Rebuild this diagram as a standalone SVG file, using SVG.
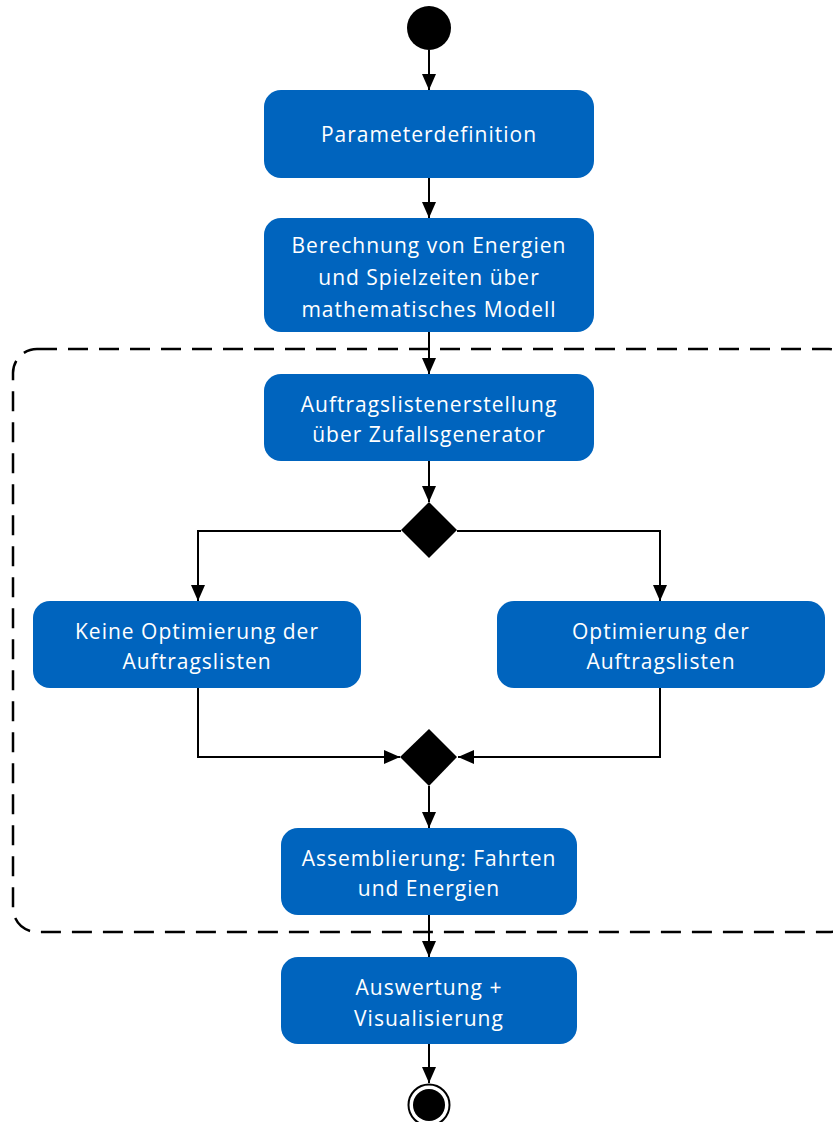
<svg xmlns="http://www.w3.org/2000/svg" width="833" height="1122" viewBox="0 0 833 1122">
<style>
.box{fill:#0064BE;}
.t{font-family:"Open Sans","Liberation Sans",sans-serif;font-size:21px;letter-spacing:1px;fill:#ffffff;text-anchor:middle;dominant-baseline:central;}
.c{fill:none;stroke:#000;stroke-width:2;}
</style>
<defs>
<marker id="ah" markerWidth="16" markerHeight="14" refX="16" refY="7" orient="auto" markerUnits="userSpaceOnUse">
<path d="M0,0 L16,7 L0,14 Z" fill="#000"/>
</marker>
</defs>
<rect x="13" y="349" width="840" height="583" rx="24" fill="none" stroke="#000" stroke-width="2.5" stroke-dasharray="20,11"/>
<g id="connectors">
<line class="c" x1="429" y1="50" x2="429" y2="90" marker-end="url(#ah)"/>
<line class="c" x1="429" y1="178" x2="429" y2="218" marker-end="url(#ah)"/>
<line class="c" x1="429" y1="332" x2="429" y2="374" marker-end="url(#ah)"/>
<line class="c" x1="429" y1="461" x2="429" y2="502" marker-end="url(#ah)"/>
<polyline class="c" points="401,531 198,531 198,601" marker-end="url(#ah)"/>
<polyline class="c" points="457,531 660,531 660,601" marker-end="url(#ah)"/>
<polyline class="c" points="198,688 198,757 400,757" marker-end="url(#ah)"/>
<polyline class="c" points="660,688 660,757 458,757" marker-end="url(#ah)"/>
<line class="c" x1="429" y1="786" x2="429" y2="828" marker-end="url(#ah)"/>
<line class="c" x1="429" y1="915" x2="429" y2="957" marker-end="url(#ah)"/>
<line class="c" x1="429" y1="1044" x2="429" y2="1083" marker-end="url(#ah)"/>
</g>
<g id="start"><circle cx="429" cy="28" r="22" fill="#000"/></g>
<g id="n1"><rect class="box" x="264" y="90" width="330" height="88" rx="17"/>
<text class="t" x="429" y="134">Parameterdefinition</text></g>
<g id="n2"><rect class="box" x="264" y="218" width="330" height="114" rx="17"/>
<text class="t" x="429" y="245">Berechnung von Energien</text>
<text class="t" x="429" y="277">und Spielzeiten über</text>
<text class="t" x="429" y="309">mathematisches Modell</text></g>
<g id="n3"><rect class="box" x="264" y="374" width="330" height="87" rx="17"/>
<text class="t" x="429" y="404">Auftragslistenerstellung</text>
<text class="t" x="429" y="434">über Zufallsgenerator</text></g>
<g id="d1"><polygon points="429,502 457,530 429,558 401,530" fill="#000"/></g>
<g id="n4"><rect class="box" x="33" y="601" width="328" height="87" rx="17"/>
<text class="t" x="197" y="631">Keine Optimierung der</text>
<text class="t" x="197" y="661">Auftragslisten</text></g>
<g id="n5"><rect class="box" x="497" y="601" width="328" height="87" rx="17"/>
<text class="t" x="661" y="631">Optimierung der</text>
<text class="t" x="661" y="661">Auftragslisten</text></g>
<g id="d2"><polygon points="429,729 457,757 429,786 400,757" fill="#000"/></g>
<g id="n6"><rect class="box" x="281" y="828" width="296" height="87" rx="17"/>
<text class="t" x="429" y="858">Assemblierung: Fahrten</text>
<text class="t" x="429" y="888">und Energien</text></g>
<g id="n7"><rect class="box" x="281" y="957" width="296" height="87" rx="17"/>
<text class="t" x="429" y="987">Auswertung +</text>
<text class="t" x="429" y="1018">Visualisierung</text></g>
<g id="end"><circle cx="429" cy="1105" r="20.5" fill="#fff" stroke="#000" stroke-width="2"/>
<circle cx="429" cy="1105" r="16" fill="#000"/></g>
</svg>
